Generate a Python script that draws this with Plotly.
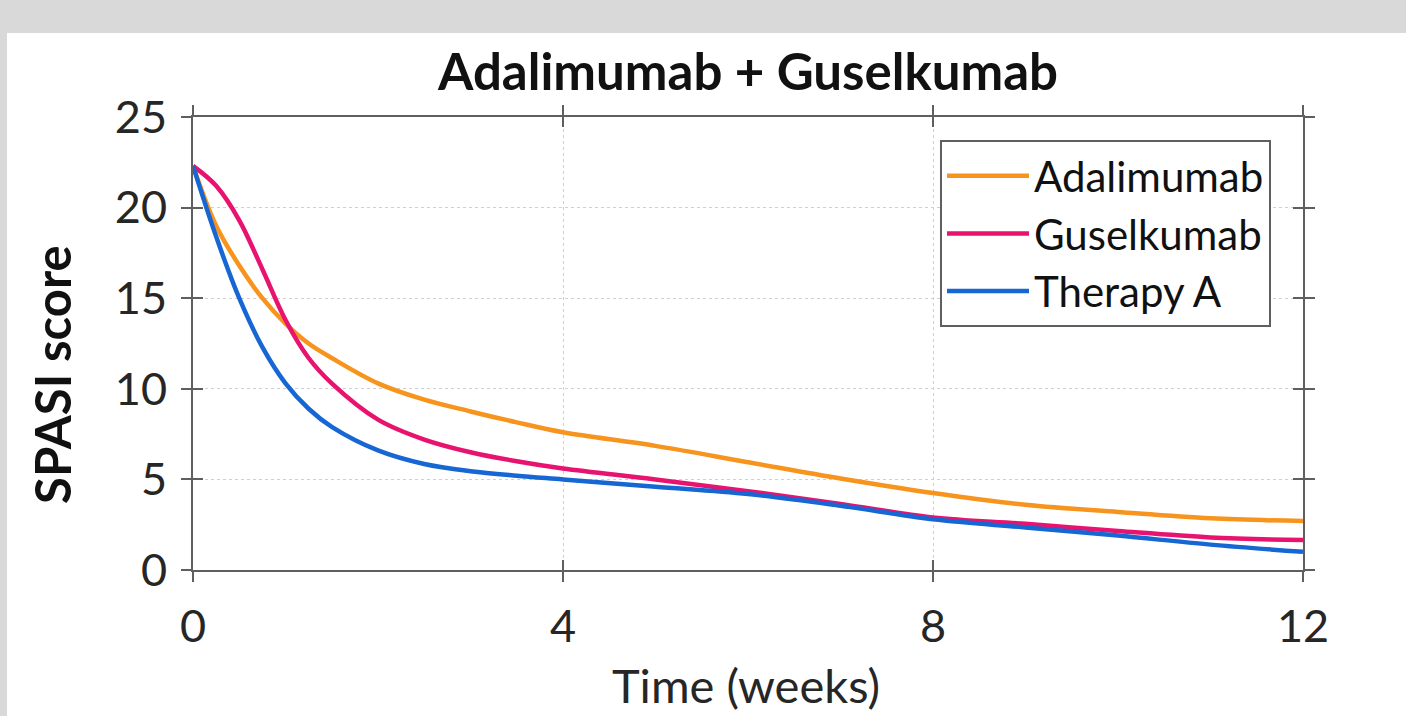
import plotly.graph_objects as go

weeks = [0, 0.25, 0.5, 0.75, 1, 1.25, 1.5, 2, 2.5, 3, 3.5, 4, 5, 6, 7, 8, 9, 10, 11, 12]
adalimumab = [22.3, 19.0, 16.8, 15.0, 13.6, 12.5, 11.7, 10.3, 9.4, 8.75, 8.15, 7.6, 6.85, 5.95, 5.05, 4.25, 3.6, 3.2, 2.85, 2.7]
guselkumab = [22.3, 21.2, 19.3, 16.6, 13.8, 11.7, 10.3, 8.3, 7.2, 6.5, 6.0, 5.6, 5.0, 4.35, 3.65, 2.9, 2.55, 2.15, 1.8, 1.65]
therapy_a = [22.3, 18.4, 15.0, 12.3, 10.3, 8.9, 7.9, 6.6, 5.85, 5.45, 5.2, 5.0, 4.6, 4.2, 3.55, 2.8, 2.35, 1.9, 1.4, 1.0]

series_names = ["Adalimumab", "Guselkumab", "Therapy A"]
series_colors = ["#F7941D", "#E8136F", "#1666D3"]
x_ticks = [0, 4, 8, 12]
y_ticks = [0, 5, 10, 15, 20, 25]

FONT = "Lato"
AX = "#5f5f5f"
W, H = 1406, 716
L, R, T, B = 193, 1303, 117, 570

fig = go.Figure()
for i, (name, vals, col) in enumerate(zip(series_names, [adalimumab, guselkumab, therapy_a], series_colors)):
    fig.add_trace(go.Scatter(
        x=weeks, y=vals, name=name, mode="lines",
        line=dict(color=col, width=4.5, shape="spline", smoothing=1.0),
        xaxis="x2" if i == 2 else "x", yaxis="y2" if i == 2 else "y",
    ))

common = dict(showline=True, linecolor=AX, linewidth=2, mirror="ticks",
              tickcolor=AX, tickwidth=2, ticklen=10, zeroline=False)

fig.update_layout(
    width=W, height=H,
    margin=dict(l=L, r=W - R, t=T, b=H - B, pad=0),
    paper_bgcolor="#d9d9d9", plot_bgcolor="white",
    font=dict(family=FONT, color="#262626"),
    title=dict(text="<b>Adalimumab + Guselkumab</b>", x=(L + R) / 2 / W, xanchor="center",
               y=1 - 72 / H, yanchor="middle", font=dict(size=51, color="#111111", family=FONT)),
    xaxis=dict(range=[0, 12], tickvals=x_ticks, ticks="outside", showgrid=True,
               gridcolor="#d0d0d0", griddash="dot", gridwidth=1,
               tickfont=dict(size=45, color="#262626"), ticklabelstandoff=6, **common),
    yaxis=dict(range=[0, 25], tickvals=y_ticks, ticks="outside", showgrid=True,
               gridcolor="#d0d0d0", griddash="dot", gridwidth=1,
               tickfont=dict(size=45, color="#262626"), ticklabelstandoff=5, **common),
    xaxis2=dict(range=[0, 12], tickvals=x_ticks, ticks="inside", showgrid=False,
                showticklabels=False, overlaying="x", anchor="y2", **common),
    yaxis2=dict(range=[0, 25], tickvals=y_ticks, ticks="inside", showgrid=False,
                showticklabels=False, overlaying="y", anchor="x2", **common),
    legend=dict(x=(940 - L) / (R - L), y=(B - 140) / (B - T), xanchor="left", yanchor="top",
                bgcolor="white", bordercolor=AX, borderwidth=2,
                font=dict(size=42, color="#111111", family=FONT),
                itemwidth=82, tracegroupgap=0),
    showlegend=True,
    shapes=[dict(type="rect", xref="paper", yref="paper",
                 x0=(7 - L) / (R - L), x1=(W + 5 - L) / (R - L),
                 y0=(B - H - 5) / (B - T), y1=(B - 33) / (B - T),
                 fillcolor="white", line=dict(width=0), layer="below")],
    annotations=[
        dict(text="<b>SPASI score</b>", textangle=-90, x=(52 - L) / (R - L), y=(B - 375) / (B - T),
             xref="paper", yref="paper", showarrow=False, xanchor="center", yanchor="middle",
             font=dict(size=49, color="#111111", family=FONT)),
        dict(text="Time (weeks)", x=(746 - L) / (R - L), y=(B - 685) / (B - T),
             xref="paper", yref="paper", showarrow=False, xanchor="center", yanchor="middle",
             borderpad=0, font=dict(size=47, color="#262626", family=FONT)),
    ],
)

fig.write_html("out.html", config={"displayModeBar": False},
               post_script="document.body.style.margin='0';document.body.style.overflow='hidden';")
